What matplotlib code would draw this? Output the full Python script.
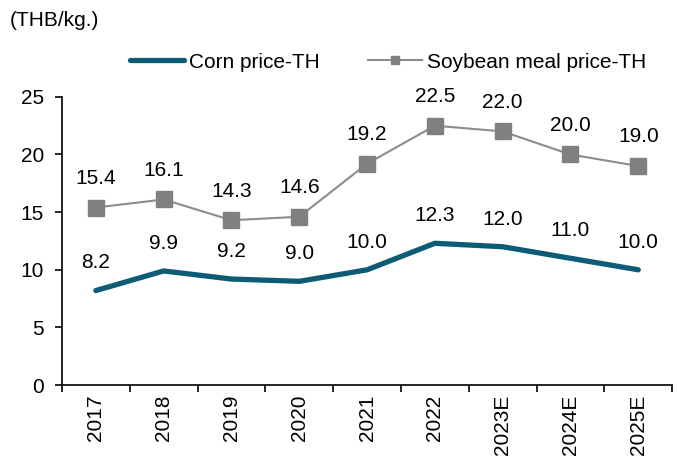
import matplotlib.pyplot as plt
import numpy as np

plt.rcParams['font.family'] = ['Liberation Sans', 'DejaVu Sans']

years = ['2017', '2018', '2019', '2020', '2021', '2022', '2023E', '2024E', '2025E']
corn = [8.2, 9.9, 9.2, 9.0, 10.0, 12.3, 12.0, 11.0, 10.0]
soybean = [15.4, 16.1, 14.3, 14.6, 19.2, 22.5, 22.0, 20.0, 19.0]

fs = 15

fig = plt.figure(figsize=(6.78, 4.59), dpi=100)
ax = fig.add_axes([0.0914, 0.161, 0.9, 0.628])

x = np.arange(len(years))
ax.plot(x, corn, color='#0b5c74', lw=3.8, solid_capstyle='round', label='Corn price-TH')
ax.plot(x, soybean, color='#8c8c8c', lw=1.5, marker='s', markersize=11,
        markerfacecolor='#808080', markeredgecolor='#808080', label='Soybean meal price-TH')

# value labels above each point
for xi, v in zip(x, corn):
    ax.annotate(f'{v:.1f}', (xi, v), xytext=(0, 16), textcoords='offset points',
                ha='center', va='baseline', fontsize=fs)
for xi, v in zip(x, soybean):
    ax.annotate(f'{v:.1f}', (xi, v), xytext=(0, 17), textcoords='offset points',
                ha='center', va='baseline', fontsize=fs)

ax.set_xlim(-0.5, len(years) - 0.5)
ax.set_ylim(0, 25)
ax.set_yticks([0, 5, 10, 15, 20, 25])
ax.set_xticks(x)
ax.set_xticklabels(years, rotation=90, fontsize=fs)
ax.set_xticks(np.arange(len(years) + 1) - 0.5, minor=True)
ax.tick_params(axis='x', which='major', length=0, pad=7)
ax.tick_params(axis='x', which='minor', length=5, width=1.2, direction='out')
ax.tick_params(axis='y', length=5, width=1.2, direction='out', labelsize=fs, pad=8)
for s in ['top', 'right']:
    ax.spines[s].set_visible(False)
ax.spines['left'].set_linewidth(1.2)
ax.spines['bottom'].set_linewidth(1.2)

fig.text(0.015, 0.955, '(THB/kg.)', fontsize=fs, va='center')
ax.legend(loc='center left', bbox_to_anchor=(130 / 678, 1 - 62 / 459),
          bbox_transform=fig.transFigure, ncol=2, frameon=False, borderpad=0,
          borderaxespad=0, fontsize=fs, handlelength=2.6, handletextpad=0.25,
          columnspacing=2.3, markerscale=0.55)

plt.savefig('out.png', dpi=100)
